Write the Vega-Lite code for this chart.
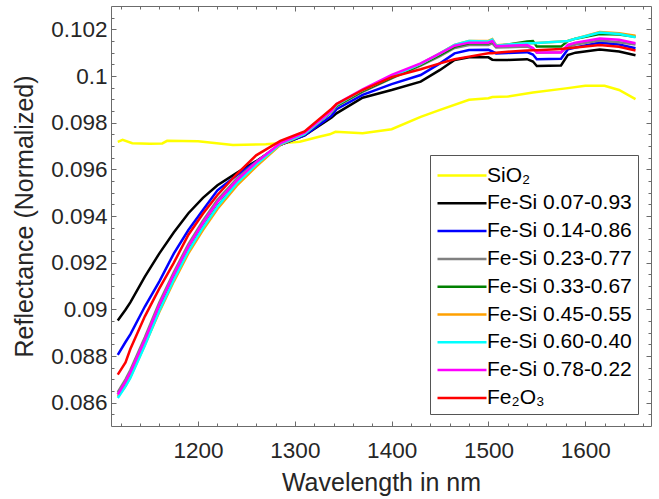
{
"$schema": "https://vega.github.io/schema/vega-lite/v6.json",
"width": 540, "height": 420,
"autosize": "none",
"padding": {"left": 111, "top": 6, "right": 8, "bottom": 73},
"background": "white",
"config": {"view": {"stroke": null}, "font": "Liberation Sans"},
"datasets": {"d": [
{"s":"SiO₂","w":1117,"r":0.09718},{"s":"SiO₂","w":1122,"r":0.09726},{"s":"SiO₂","w":1132,"r":0.09712},{"s":"SiO₂","w":1150,"r":0.09710},{"s":"SiO₂","w":1163,"r":0.09711},{"s":"SiO₂","w":1168,"r":0.09722},{"s":"SiO₂","w":1200,"r":0.09720},{"s":"SiO₂","w":1236,"r":0.09704},{"s":"SiO₂","w":1270,"r":0.09708},{"s":"SiO₂","w":1305,"r":0.09718},{"s":"SiO₂","w":1325,"r":0.09740},{"s":"SiO₂","w":1336,"r":0.09750},{"s":"SiO₂","w":1342,"r":0.09761},{"s":"SiO₂","w":1370,"r":0.09755},{"s":"SiO₂","w":1400,"r":0.09772},{"s":"SiO₂","w":1430,"r":0.09825},{"s":"SiO₂","w":1450,"r":0.09855},{"s":"SiO₂","w":1480,"r":0.09898},{"s":"SiO₂","w":1500,"r":0.09905},{"s":"SiO₂","w":1504,"r":0.09910},{"s":"SiO₂","w":1520,"r":0.09912},{"s":"SiO₂","w":1546,"r":0.09929},{"s":"SiO₂","w":1580,"r":0.09947},{"s":"SiO₂","w":1600,"r":0.09958},{"s":"SiO₂","w":1620,"r":0.09958},{"s":"SiO₂","w":1635,"r":0.09940},{"s":"SiO₂","w":1652,"r":0.09901},
{"s":"Fe-Si 0.07-0.93","w":1117,"r":0.08952},{"s":"Fe-Si 0.07-0.93","w":1125,"r":0.08998},{"s":"Fe-Si 0.07-0.93","w":1130,"r":0.09030},{"s":"Fe-Si 0.07-0.93","w":1145,"r":0.09140},{"s":"Fe-Si 0.07-0.93","w":1160,"r":0.09240},{"s":"Fe-Si 0.07-0.93","w":1175,"r":0.09330},{"s":"Fe-Si 0.07-0.93","w":1190,"r":0.09412},{"s":"Fe-Si 0.07-0.93","w":1205,"r":0.09478},{"s":"Fe-Si 0.07-0.93","w":1220,"r":0.09532},{"s":"Fe-Si 0.07-0.93","w":1240,"r":0.09585},{"s":"Fe-Si 0.07-0.93","w":1260,"r":0.09635},{"s":"Fe-Si 0.07-0.93","w":1285,"r":0.09705},{"s":"Fe-Si 0.07-0.93","w":1310,"r":0.09745},{"s":"Fe-Si 0.07-0.93","w":1338,"r":0.09822},{"s":"Fe-Si 0.07-0.93","w":1343,"r":0.09840},{"s":"Fe-Si 0.07-0.93","w":1370,"r":0.09907},{"s":"Fe-Si 0.07-0.93","w":1400,"r":0.09940},{"s":"Fe-Si 0.07-0.93","w":1430,"r":0.09976},{"s":"Fe-Si 0.07-0.93","w":1450,"r":0.10026},{"s":"Fe-Si 0.07-0.93","w":1465,"r":0.10069},{"s":"Fe-Si 0.07-0.93","w":1480,"r":0.10080},{"s":"Fe-Si 0.07-0.93","w":1500,"r":0.10080},{"s":"Fe-Si 0.07-0.93","w":1504,"r":0.10070},{"s":"Fe-Si 0.07-0.93","w":1508,"r":0.10069},{"s":"Fe-Si 0.07-0.93","w":1520,"r":0.10069},{"s":"Fe-Si 0.07-0.93","w":1540,"r":0.10072},{"s":"Fe-Si 0.07-0.93","w":1546,"r":0.10062},{"s":"Fe-Si 0.07-0.93","w":1550,"r":0.10043},{"s":"Fe-Si 0.07-0.93","w":1575,"r":0.10045},{"s":"Fe-Si 0.07-0.93","w":1582,"r":0.10090},{"s":"Fe-Si 0.07-0.93","w":1590,"r":0.10100},{"s":"Fe-Si 0.07-0.93","w":1615,"r":0.10114},{"s":"Fe-Si 0.07-0.93","w":1635,"r":0.10105},{"s":"Fe-Si 0.07-0.93","w":1652,"r":0.10089},
{"s":"Fe-Si 0.14-0.86","w":1117,"r":0.08805},{"s":"Fe-Si 0.14-0.86","w":1125,"r":0.08860},{"s":"Fe-Si 0.14-0.86","w":1130,"r":0.08893},{"s":"Fe-Si 0.14-0.86","w":1145,"r":0.09012},{"s":"Fe-Si 0.14-0.86","w":1160,"r":0.09120},{"s":"Fe-Si 0.14-0.86","w":1175,"r":0.09240},{"s":"Fe-Si 0.14-0.86","w":1190,"r":0.09340},{"s":"Fe-Si 0.14-0.86","w":1205,"r":0.09426},{"s":"Fe-Si 0.14-0.86","w":1220,"r":0.09510},{"s":"Fe-Si 0.14-0.86","w":1240,"r":0.09575},{"s":"Fe-Si 0.14-0.86","w":1260,"r":0.09632},{"s":"Fe-Si 0.14-0.86","w":1285,"r":0.09705},{"s":"Fe-Si 0.14-0.86","w":1310,"r":0.09745},{"s":"Fe-Si 0.14-0.86","w":1338,"r":0.09830},{"s":"Fe-Si 0.14-0.86","w":1343,"r":0.09858},{"s":"Fe-Si 0.14-0.86","w":1370,"r":0.09919},{"s":"Fe-Si 0.14-0.86","w":1400,"r":0.09965},{"s":"Fe-Si 0.14-0.86","w":1430,"r":0.10004},{"s":"Fe-Si 0.14-0.86","w":1450,"r":0.10054},{"s":"Fe-Si 0.14-0.86","w":1465,"r":0.10097},{"s":"Fe-Si 0.14-0.86","w":1480,"r":0.10111},{"s":"Fe-Si 0.14-0.86","w":1500,"r":0.10112},{"s":"Fe-Si 0.14-0.86","w":1504,"r":0.10105},{"s":"Fe-Si 0.14-0.86","w":1508,"r":0.10097},{"s":"Fe-Si 0.14-0.86","w":1520,"r":0.10099},{"s":"Fe-Si 0.14-0.86","w":1540,"r":0.10102},{"s":"Fe-Si 0.14-0.86","w":1546,"r":0.10092},{"s":"Fe-Si 0.14-0.86","w":1550,"r":0.10072},{"s":"Fe-Si 0.14-0.86","w":1575,"r":0.10074},{"s":"Fe-Si 0.14-0.86","w":1582,"r":0.10114},{"s":"Fe-Si 0.14-0.86","w":1590,"r":0.10122},{"s":"Fe-Si 0.14-0.86","w":1615,"r":0.10143},{"s":"Fe-Si 0.14-0.86","w":1635,"r":0.10135},{"s":"Fe-Si 0.14-0.86","w":1652,"r":0.10119},
{"s":"Fe-Si 0.23-0.77","w":1117,"r":0.08645},{"s":"Fe-Si 0.23-0.77","w":1125,"r":0.08700},{"s":"Fe-Si 0.23-0.77","w":1130,"r":0.08740},{"s":"Fe-Si 0.23-0.77","w":1145,"r":0.08880},{"s":"Fe-Si 0.23-0.77","w":1160,"r":0.09030},{"s":"Fe-Si 0.23-0.77","w":1175,"r":0.09160},{"s":"Fe-Si 0.23-0.77","w":1190,"r":0.09280},{"s":"Fe-Si 0.23-0.77","w":1205,"r":0.09380},{"s":"Fe-Si 0.23-0.77","w":1220,"r":0.09470},{"s":"Fe-Si 0.23-0.77","w":1240,"r":0.09560},{"s":"Fe-Si 0.23-0.77","w":1260,"r":0.09632},{"s":"Fe-Si 0.23-0.77","w":1285,"r":0.09710},{"s":"Fe-Si 0.23-0.77","w":1310,"r":0.09752},{"s":"Fe-Si 0.23-0.77","w":1338,"r":0.09845},{"s":"Fe-Si 0.23-0.77","w":1343,"r":0.09870},{"s":"Fe-Si 0.23-0.77","w":1370,"r":0.09932},{"s":"Fe-Si 0.23-0.77","w":1400,"r":0.09990},{"s":"Fe-Si 0.23-0.77","w":1430,"r":0.10045},{"s":"Fe-Si 0.23-0.77","w":1450,"r":0.10085},{"s":"Fe-Si 0.23-0.77","w":1465,"r":0.10120},{"s":"Fe-Si 0.23-0.77","w":1480,"r":0.10133},{"s":"Fe-Si 0.23-0.77","w":1500,"r":0.10133},{"s":"Fe-Si 0.23-0.77","w":1504,"r":0.10140},{"s":"Fe-Si 0.23-0.77","w":1508,"r":0.10122},{"s":"Fe-Si 0.23-0.77","w":1520,"r":0.10123},{"s":"Fe-Si 0.23-0.77","w":1540,"r":0.10126},{"s":"Fe-Si 0.23-0.77","w":1546,"r":0.10118},{"s":"Fe-Si 0.23-0.77","w":1550,"r":0.10100},{"s":"Fe-Si 0.23-0.77","w":1575,"r":0.10102},{"s":"Fe-Si 0.23-0.77","w":1582,"r":0.10125},{"s":"Fe-Si 0.23-0.77","w":1590,"r":0.10135},{"s":"Fe-Si 0.23-0.77","w":1615,"r":0.10152},{"s":"Fe-Si 0.23-0.77","w":1635,"r":0.10145},{"s":"Fe-Si 0.23-0.77","w":1652,"r":0.10135},
{"s":"Fe-Si 0.33-0.67","w":1117,"r":0.08635},{"s":"Fe-Si 0.33-0.67","w":1125,"r":0.08685},{"s":"Fe-Si 0.33-0.67","w":1130,"r":0.08722},{"s":"Fe-Si 0.33-0.67","w":1145,"r":0.08862},{"s":"Fe-Si 0.33-0.67","w":1160,"r":0.09002},{"s":"Fe-Si 0.33-0.67","w":1175,"r":0.09132},{"s":"Fe-Si 0.33-0.67","w":1190,"r":0.09252},{"s":"Fe-Si 0.33-0.67","w":1205,"r":0.09352},{"s":"Fe-Si 0.33-0.67","w":1220,"r":0.09442},{"s":"Fe-Si 0.33-0.67","w":1240,"r":0.09540},{"s":"Fe-Si 0.33-0.67","w":1260,"r":0.09620},{"s":"Fe-Si 0.33-0.67","w":1285,"r":0.09708},{"s":"Fe-Si 0.33-0.67","w":1310,"r":0.09752},{"s":"Fe-Si 0.33-0.67","w":1338,"r":0.09848},{"s":"Fe-Si 0.33-0.67","w":1343,"r":0.09872},{"s":"Fe-Si 0.33-0.67","w":1370,"r":0.09935},{"s":"Fe-Si 0.33-0.67","w":1400,"r":0.09992},{"s":"Fe-Si 0.33-0.67","w":1430,"r":0.10048},{"s":"Fe-Si 0.33-0.67","w":1450,"r":0.10090},{"s":"Fe-Si 0.33-0.67","w":1465,"r":0.10125},{"s":"Fe-Si 0.33-0.67","w":1480,"r":0.10140},{"s":"Fe-Si 0.33-0.67","w":1500,"r":0.10140},{"s":"Fe-Si 0.33-0.67","w":1504,"r":0.10148},{"s":"Fe-Si 0.33-0.67","w":1508,"r":0.10128},{"s":"Fe-Si 0.33-0.67","w":1520,"r":0.10135},{"s":"Fe-Si 0.33-0.67","w":1540,"r":0.10148},{"s":"Fe-Si 0.33-0.67","w":1546,"r":0.10150},{"s":"Fe-Si 0.33-0.67","w":1550,"r":0.10126},{"s":"Fe-Si 0.33-0.67","w":1575,"r":0.10126},{"s":"Fe-Si 0.33-0.67","w":1582,"r":0.10150},{"s":"Fe-Si 0.33-0.67","w":1590,"r":0.10160},{"s":"Fe-Si 0.33-0.67","w":1615,"r":0.10180},{"s":"Fe-Si 0.33-0.67","w":1635,"r":0.10178},{"s":"Fe-Si 0.33-0.67","w":1652,"r":0.10168},
{"s":"Fe-Si 0.45-0.55","w":1117,"r":0.08625},{"s":"Fe-Si 0.45-0.55","w":1125,"r":0.08672},{"s":"Fe-Si 0.45-0.55","w":1130,"r":0.08710},{"s":"Fe-Si 0.45-0.55","w":1145,"r":0.08848},{"s":"Fe-Si 0.45-0.55","w":1160,"r":0.08990},{"s":"Fe-Si 0.45-0.55","w":1175,"r":0.09120},{"s":"Fe-Si 0.45-0.55","w":1190,"r":0.09240},{"s":"Fe-Si 0.45-0.55","w":1205,"r":0.09340},{"s":"Fe-Si 0.45-0.55","w":1220,"r":0.09430},{"s":"Fe-Si 0.45-0.55","w":1240,"r":0.09530},{"s":"Fe-Si 0.45-0.55","w":1260,"r":0.09612},{"s":"Fe-Si 0.45-0.55","w":1285,"r":0.09705},{"s":"Fe-Si 0.45-0.55","w":1310,"r":0.09752},{"s":"Fe-Si 0.45-0.55","w":1338,"r":0.09850},{"s":"Fe-Si 0.45-0.55","w":1343,"r":0.09876},{"s":"Fe-Si 0.45-0.55","w":1370,"r":0.09940},{"s":"Fe-Si 0.45-0.55","w":1400,"r":0.09998},{"s":"Fe-Si 0.45-0.55","w":1430,"r":0.10052},{"s":"Fe-Si 0.45-0.55","w":1450,"r":0.10097},{"s":"Fe-Si 0.45-0.55","w":1465,"r":0.10133},{"s":"Fe-Si 0.45-0.55","w":1480,"r":0.10150},{"s":"Fe-Si 0.45-0.55","w":1500,"r":0.10150},{"s":"Fe-Si 0.45-0.55","w":1504,"r":0.10158},{"s":"Fe-Si 0.45-0.55","w":1508,"r":0.10132},{"s":"Fe-Si 0.45-0.55","w":1520,"r":0.10135},{"s":"Fe-Si 0.45-0.55","w":1540,"r":0.10140},{"s":"Fe-Si 0.45-0.55","w":1546,"r":0.10140},{"s":"Fe-Si 0.45-0.55","w":1550,"r":0.10141},{"s":"Fe-Si 0.45-0.55","w":1575,"r":0.10148},{"s":"Fe-Si 0.45-0.55","w":1582,"r":0.10150},{"s":"Fe-Si 0.45-0.55","w":1590,"r":0.10160},{"s":"Fe-Si 0.45-0.55","w":1615,"r":0.10188},{"s":"Fe-Si 0.45-0.55","w":1635,"r":0.10183},{"s":"Fe-Si 0.45-0.55","w":1652,"r":0.10173},
{"s":"Fe-Si 0.60-0.40","w":1117,"r":0.08620},{"s":"Fe-Si 0.60-0.40","w":1125,"r":0.08670},{"s":"Fe-Si 0.60-0.40","w":1130,"r":0.08706},{"s":"Fe-Si 0.60-0.40","w":1145,"r":0.08845},{"s":"Fe-Si 0.60-0.40","w":1160,"r":0.08995},{"s":"Fe-Si 0.60-0.40","w":1175,"r":0.09128},{"s":"Fe-Si 0.60-0.40","w":1190,"r":0.09250},{"s":"Fe-Si 0.60-0.40","w":1205,"r":0.09350},{"s":"Fe-Si 0.60-0.40","w":1220,"r":0.09440},{"s":"Fe-Si 0.60-0.40","w":1240,"r":0.09540},{"s":"Fe-Si 0.60-0.40","w":1260,"r":0.09620},{"s":"Fe-Si 0.60-0.40","w":1285,"r":0.09708},{"s":"Fe-Si 0.60-0.40","w":1310,"r":0.09752},{"s":"Fe-Si 0.60-0.40","w":1338,"r":0.09850},{"s":"Fe-Si 0.60-0.40","w":1343,"r":0.09876},{"s":"Fe-Si 0.60-0.40","w":1370,"r":0.09940},{"s":"Fe-Si 0.60-0.40","w":1400,"r":0.09998},{"s":"Fe-Si 0.60-0.40","w":1430,"r":0.10052},{"s":"Fe-Si 0.60-0.40","w":1450,"r":0.10097},{"s":"Fe-Si 0.60-0.40","w":1465,"r":0.10133},{"s":"Fe-Si 0.60-0.40","w":1480,"r":0.10150},{"s":"Fe-Si 0.60-0.40","w":1500,"r":0.10148},{"s":"Fe-Si 0.60-0.40","w":1504,"r":0.10156},{"s":"Fe-Si 0.60-0.40","w":1508,"r":0.10130},{"s":"Fe-Si 0.60-0.40","w":1520,"r":0.10135},{"s":"Fe-Si 0.60-0.40","w":1540,"r":0.10140},{"s":"Fe-Si 0.60-0.40","w":1546,"r":0.10140},{"s":"Fe-Si 0.60-0.40","w":1550,"r":0.10141},{"s":"Fe-Si 0.60-0.40","w":1575,"r":0.10148},{"s":"Fe-Si 0.60-0.40","w":1582,"r":0.10150},{"s":"Fe-Si 0.60-0.40","w":1590,"r":0.10160},{"s":"Fe-Si 0.60-0.40","w":1615,"r":0.10186},{"s":"Fe-Si 0.60-0.40","w":1635,"r":0.10180},{"s":"Fe-Si 0.60-0.40","w":1652,"r":0.10166},
{"s":"Fe-Si 0.78-0.22","w":1117,"r":0.08635},{"s":"Fe-Si 0.78-0.22","w":1125,"r":0.08690},{"s":"Fe-Si 0.78-0.22","w":1130,"r":0.08730},{"s":"Fe-Si 0.78-0.22","w":1145,"r":0.08870},{"s":"Fe-Si 0.78-0.22","w":1160,"r":0.09020},{"s":"Fe-Si 0.78-0.22","w":1175,"r":0.09150},{"s":"Fe-Si 0.78-0.22","w":1190,"r":0.09270},{"s":"Fe-Si 0.78-0.22","w":1205,"r":0.09370},{"s":"Fe-Si 0.78-0.22","w":1220,"r":0.09460},{"s":"Fe-Si 0.78-0.22","w":1240,"r":0.09553},{"s":"Fe-Si 0.78-0.22","w":1260,"r":0.09630},{"s":"Fe-Si 0.78-0.22","w":1285,"r":0.09712},{"s":"Fe-Si 0.78-0.22","w":1310,"r":0.09757},{"s":"Fe-Si 0.78-0.22","w":1338,"r":0.09852},{"s":"Fe-Si 0.78-0.22","w":1343,"r":0.09880},{"s":"Fe-Si 0.78-0.22","w":1370,"r":0.09943},{"s":"Fe-Si 0.78-0.22","w":1400,"r":0.10005},{"s":"Fe-Si 0.78-0.22","w":1430,"r":0.10054},{"s":"Fe-Si 0.78-0.22","w":1450,"r":0.10097},{"s":"Fe-Si 0.78-0.22","w":1465,"r":0.10130},{"s":"Fe-Si 0.78-0.22","w":1480,"r":0.10143},{"s":"Fe-Si 0.78-0.22","w":1500,"r":0.10143},{"s":"Fe-Si 0.78-0.22","w":1504,"r":0.10150},{"s":"Fe-Si 0.78-0.22","w":1508,"r":0.10128},{"s":"Fe-Si 0.78-0.22","w":1520,"r":0.10130},{"s":"Fe-Si 0.78-0.22","w":1540,"r":0.10133},{"s":"Fe-Si 0.78-0.22","w":1546,"r":0.10120},{"s":"Fe-Si 0.78-0.22","w":1550,"r":0.10101},{"s":"Fe-Si 0.78-0.22","w":1575,"r":0.10101},{"s":"Fe-Si 0.78-0.22","w":1582,"r":0.10133},{"s":"Fe-Si 0.78-0.22","w":1590,"r":0.10143},{"s":"Fe-Si 0.78-0.22","w":1615,"r":0.10161},{"s":"Fe-Si 0.78-0.22","w":1635,"r":0.10155},{"s":"Fe-Si 0.78-0.22","w":1652,"r":0.10140},
{"s":"Fe₂O₃","w":1117,"r":0.08720},{"s":"Fe₂O₃","w":1125,"r":0.08772},{"s":"Fe₂O₃","w":1130,"r":0.08830},{"s":"Fe₂O₃","w":1145,"r":0.08970},{"s":"Fe₂O₃","w":1160,"r":0.09090},{"s":"Fe₂O₃","w":1175,"r":0.09200},{"s":"Fe₂O₃","w":1190,"r":0.09320},{"s":"Fe₂O₃","w":1205,"r":0.09410},{"s":"Fe₂O₃","w":1220,"r":0.09490},{"s":"Fe₂O₃","w":1240,"r":0.09580},{"s":"Fe₂O₃","w":1260,"r":0.09660},{"s":"Fe₂O₃","w":1285,"r":0.09722},{"s":"Fe₂O₃","w":1310,"r":0.09762},{"s":"Fe₂O₃","w":1338,"r":0.09860},{"s":"Fe₂O₃","w":1343,"r":0.09880},{"s":"Fe₂O₃","w":1370,"r":0.09940},{"s":"Fe₂O₃","w":1400,"r":0.09995},{"s":"Fe₂O₃","w":1430,"r":0.10029},{"s":"Fe₂O₃","w":1450,"r":0.10054},{"s":"Fe₂O₃","w":1465,"r":0.10072},{"s":"Fe₂O₃","w":1480,"r":0.10083},{"s":"Fe₂O₃","w":1500,"r":0.10097},{"s":"Fe₂O₃","w":1504,"r":0.10098},{"s":"Fe₂O₃","w":1508,"r":0.10100},{"s":"Fe₂O₃","w":1520,"r":0.10104},{"s":"Fe₂O₃","w":1540,"r":0.10109},{"s":"Fe₂O₃","w":1546,"r":0.10110},{"s":"Fe₂O₃","w":1550,"r":0.10110},{"s":"Fe₂O₃","w":1575,"r":0.10116},{"s":"Fe₂O₃","w":1582,"r":0.10119},{"s":"Fe₂O₃","w":1590,"r":0.10122},{"s":"Fe₂O₃","w":1615,"r":0.10133},{"s":"Fe₂O₃","w":1635,"r":0.10125},{"s":"Fe₂O₃","w":1652,"r":0.10109}
]},
"data": {"name": "d"},
"layer": [
{
"mark": {"type": "line", "strokeWidth": 2.5, "clip": true},
"encoding": {
"x": {"field": "w", "type": "quantitative", "scale": {"domain": [1110, 1668], "nice": false},
 "axis": {"orient": "bottom", "values": [1120,1140,1160,1180,1200,1220,1240,1260,1280,1300,1320,1340,1360,1380,1400,1420,1440,1460,1480,1500,1520,1540,1560,1580,1600,1620,1640,1660],
 "format": "d", "labelExpr": "datum.value % 100 === 0 ? datum.label : ''", "labelOverlap": false, "labelFlush": false,
 "labelFontSize": 22.5, "labelColor": "#262626", "labelPadding": 18,
 "tickSize": {"condition": {"test": "datum.value % 100 === 0", "value": -5}, "value": -3},
 "tickColor": "#6b6b6b", "domainColor": "#6b6b6b", "grid": false,
 "title": "Wavelength in nm", "titleFontSize": 25, "titleFontWeight": "normal", "titleColor": "#262626", "titlePadding": 7}},
"y": {"field": "r", "type": "quantitative", "scale": {"domain": [0.085, 0.103], "nice": false, "zero": false},
 "axis": {"orient": "left", "values": [0.0855,0.086,0.0865,0.087,0.0875,0.088,0.0885,0.089,0.0895,0.09,0.0905,0.091,0.0915,0.092,0.0925,0.093,0.0935,0.094,0.0945,0.095,0.0955,0.096,0.0965,0.097,0.0975,0.098,0.0985,0.099,0.0995,0.1,0.1005,0.101,0.1015,0.102,0.1025],
 "labelExpr": "round(datum.value*10000) % 20 === 0 ? format(datum.value, '~g') : ''", "labelOverlap": false, "labelFlush": false,
 "labelFontSize": 22.5, "labelColor": "#262626", "labelPadding": 9,
 "tickSize": {"condition": {"test": "round(datum.value*10000) % 20 === 0", "value": -5}, "value": -3},
 "tickColor": "#6b6b6b", "domainColor": "#6b6b6b", "grid": false,
 "title": "Reflectance (Normalized)", "titleFontSize": 25, "titleFontWeight": "normal", "titleColor": "#262626", "titlePadding": 13}},
"color": {"field": "s", "type": "nominal",
 "scale": {"domain": ["SiO₂","Fe-Si 0.07-0.93","Fe-Si 0.14-0.86","Fe-Si 0.23-0.77","Fe-Si 0.33-0.67","Fe-Si 0.45-0.55","Fe-Si 0.60-0.40","Fe-Si 0.78-0.22","Fe₂O₃"],
   "range": ["#FFFF00","#000000","#0000FF","#808080","#008000","#FFA000","#00FFFF","#FF00FF","#FF0000"]},
 "legend": {"title": null, "orient": "none", "legendX": 319, "legendY": 149,
   "symbolType": "M-1,0L2.77,0", "symbolSize": 676, "symbolStrokeWidth": 2.5,
   "labelFontSize": 21, "labelFont": "Liberation Sans", "labelColor": "#000000", "labelOffset": 22, "labelLimit": 400,
   "rowPadding": 2.8, "padding": 6, "strokeColor": "#555555", "fillColor": "white"}}
}
},
{
"mark": {"type": "line", "strokeOpacity": 0},
"encoding": {
"x": {"field": "w", "type": "quantitative", "scale": {"domain": [1110, 1668], "nice": false},
 "axis": {"orient": "top", "values": [1120,1140,1160,1180,1200,1220,1240,1260,1280,1300,1320,1340,1360,1380,1400,1420,1440,1460,1480,1500,1520,1540,1560,1580,1600,1620,1640,1660],
 "labels": false, "title": null, "grid": false,
 "tickSize": {"condition": {"test": "datum.value % 100 === 0", "value": -5}, "value": -3},
 "tickColor": "#6b6b6b", "domainColor": "#6b6b6b"}},
"y": {"field": "r", "type": "quantitative", "scale": {"domain": [0.085, 0.103], "nice": false, "zero": false},
 "axis": {"orient": "right", "values": [0.0855,0.086,0.0865,0.087,0.0875,0.088,0.0885,0.089,0.0895,0.09,0.0905,0.091,0.0915,0.092,0.0925,0.093,0.0935,0.094,0.0945,0.095,0.0955,0.096,0.0965,0.097,0.0975,0.098,0.0985,0.099,0.0995,0.1,0.1005,0.101,0.1015,0.102,0.1025],
 "labels": false, "title": null, "grid": false,
 "tickSize": {"condition": {"test": "round(datum.value*10000) % 20 === 0", "value": -5}, "value": -3},
 "tickColor": "#6b6b6b", "domainColor": "#6b6b6b"}},
"detail": {"field": "s", "type": "nominal"}
}
}
],
"resolve": {"axis": {"x": "independent", "y": "independent"}}
}
